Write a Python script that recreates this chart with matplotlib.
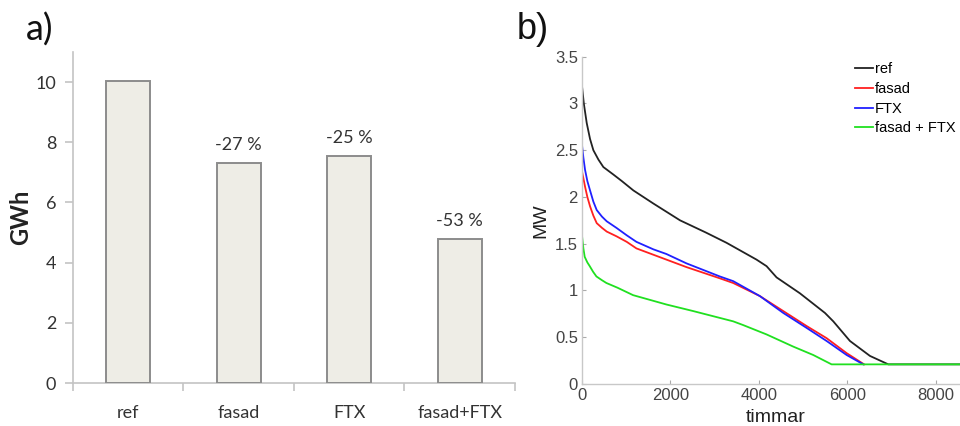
import matplotlib
matplotlib.use("Agg")
import matplotlib.pyplot as plt
from matplotlib.ticker import FixedLocator

# ---------------- data ----------------
categories = ["ref", "fasad", "FTX", "fasad+FTX"]
energy_gwh = [10.05, 7.30, 7.53, 4.77]
change_labels = ["", "-27 %", "-25 %", "-53 %"]

ref_hours = [0, 40, 106, 181, 256, 370, 482, 708, 900, 1161, 1613, 2217, 2800, 3268,
             3947, 4174, 4400, 4928, 5494, 5683, 6060, 6513, 6928, 8760]
ref_mw = [3.18, 3.00, 2.79, 2.62, 2.50, 2.40, 2.32, 2.24, 2.17, 2.07, 1.93, 1.75,
          1.62, 1.51, 1.33, 1.26, 1.14, 0.97, 0.76, 0.67, 0.46, 0.30, 0.21, 0.21]

fasad_hours = [0, 30, 68, 120, 181, 256, 332, 450, 558, 777, 1011, 1230, 1909, 2362,
               3117, 3419, 4023, 4551, 5079, 5532, 5985, 6380]
fasad_mw = [2.27, 2.20, 2.11, 2.00, 1.90, 1.80, 1.72, 1.67, 1.63, 1.58, 1.52, 1.45,
            1.33, 1.25, 1.13, 1.08, 0.94, 0.78, 0.62, 0.49, 0.33, 0.21]

ftx_hours = [0, 30, 68, 120, 181, 256, 332, 450, 558, 777, 1011, 1230, 1613, 1909,
             2362, 3117, 3419, 4023, 4551, 5079, 5532, 5985, 6362]
ftx_mw = [2.55, 2.42, 2.29, 2.17, 2.07, 1.95, 1.86, 1.79, 1.74, 1.67, 1.59, 1.52,
          1.44, 1.39, 1.29, 1.15, 1.10, 0.94, 0.76, 0.60, 0.46, 0.31, 0.21]

both_hours = [0, 30, 60, 120, 174, 250, 325, 450, 551, 800, 1155, 1909, 2513, 3419,
              3645, 4174, 4777, 5230, 5645, 8760]
both_mw = [1.58, 1.45, 1.36, 1.30, 1.26, 1.20, 1.15, 1.11, 1.08, 1.03, 0.95, 0.85,
           0.78, 0.67, 0.63, 0.53, 0.40, 0.31, 0.21, 0.21]

series_names = ["ref", "fasad", "FTX", "fasad + FTX"]

# ---------------- figure ----------------
fig = plt.figure(figsize=(9.6, 4.26), dpi=100)

# ---- panel a ----
axa = fig.add_axes([0.0760, 0.1009, 0.4604, 0.7770])
xpos = list(range(len(categories)))
axa.bar(xpos, energy_gwh, width=0.4, color="#eeede6", edgecolor="#8c8c8c",
        linewidth=1.4, zorder=3)
for x, v, lab in zip(xpos, energy_gwh, change_labels):
    if lab:
        axa.text(x, v + 0.35, lab, ha="center", va="bottom", fontsize=13,
                 family="Lato", color="#333333")
axa.set_xlim(-0.5, 3.5)
axa.set_ylim(0, 11)
axa.set_yticks([0, 2, 4, 6, 8, 10])
axa.set_xticks(xpos)
axa.set_xticklabels(categories)
axa.xaxis.set_minor_locator(FixedLocator([-0.5, 0.5, 1.5, 2.5, 3.5]))
axa.tick_params(axis="x", which="major", length=0, pad=16, labelsize=13,
                labelcolor="#333333")
axa.tick_params(axis="x", which="minor", length=6, width=1.2, color="#c4c4c4",
                direction="out")
axa.tick_params(axis="y", length=6, width=1.2, color="#c4c4c4", pad=6,
                labelsize=13, labelcolor="#333333")
for lab in axa.get_xticklabels() + axa.get_yticklabels():
    lab.set_family("Lato")
for s in ["top", "right"]:
    axa.spines[s].set_visible(False)
for s in ["left", "bottom"]:
    axa.spines[s].set_color("#c4c4c4")
    axa.spines[s].set_linewidth(1.2)
axa.set_ylabel("GWh", fontsize=17, fontweight="bold", family="Lato",
               color="#222222")
axa.yaxis.set_label_coords(-0.093, 0.5)
fig.text(0.027, 0.93, "a)", fontsize=26, family="Lato", color="#111111",
         ha="left", va="center")

# ---- panel b ----
axb = fig.add_axes([0.6063, 0.0986, 0.4034, 0.7683])
axb.plot(ref_hours, ref_mw, color="#222222", lw=1.3, label=series_names[0])
axb.plot(fasad_hours, fasad_mw, color="#ff2020", lw=1.3, label=series_names[1])
axb.plot(ftx_hours, ftx_mw, color="#2020ff", lw=1.3, label=series_names[2])
axb.plot(both_hours, both_mw, color="#20e020", lw=1.3, label=series_names[3])
axb.set_xlim(0, 8760)
axb.set_ylim(0, 3.5)
axb.set_xticks([0, 2000, 4000, 6000, 8000])
axb.set_yticks([0, 0.5, 1, 1.5, 2, 2.5, 3, 3.5])
axb.set_yticklabels(["0", "0.5", "1", "1.5", "2", "2.5", "3", "3.5"])
axb.tick_params(direction="in", length=3, width=0.8, color="#aaaaaa",
                labelsize=12, labelcolor="#444444", pad=3)
for lab in axb.get_xticklabels() + axb.get_yticklabels():
    lab.set_family("Liberation Sans")
for s in ["top", "right"]:
    axb.spines[s].set_visible(False)
for s in ["left", "bottom"]:
    axb.spines[s].set_color("#c8c8c8")
    axb.spines[s].set_linewidth(1.0)
axb.set_xlabel("timmar", fontsize=14, family="Liberation Sans", color="#222222",
               labelpad=4)
axb.set_ylabel("MW", fontsize=14, family="Liberation Sans", color="#222222",
               labelpad=4)
axb.legend(loc="upper left", bbox_to_anchor=(855 / 960, (426 - 62) / 426),
           bbox_transform=fig.transFigure, frameon=False,
           prop={"family": "Liberation Sans", "size": 10.5},
           handlelength=1.25, handletextpad=0.12, labelspacing=0.4,
           borderpad=0, borderaxespad=0)
fig.text(0.538, 0.93, "b)", fontsize=26, family="Liberation Sans",
         color="#111111", ha="left", va="center")

fig.savefig("out.png", dpi=100)
